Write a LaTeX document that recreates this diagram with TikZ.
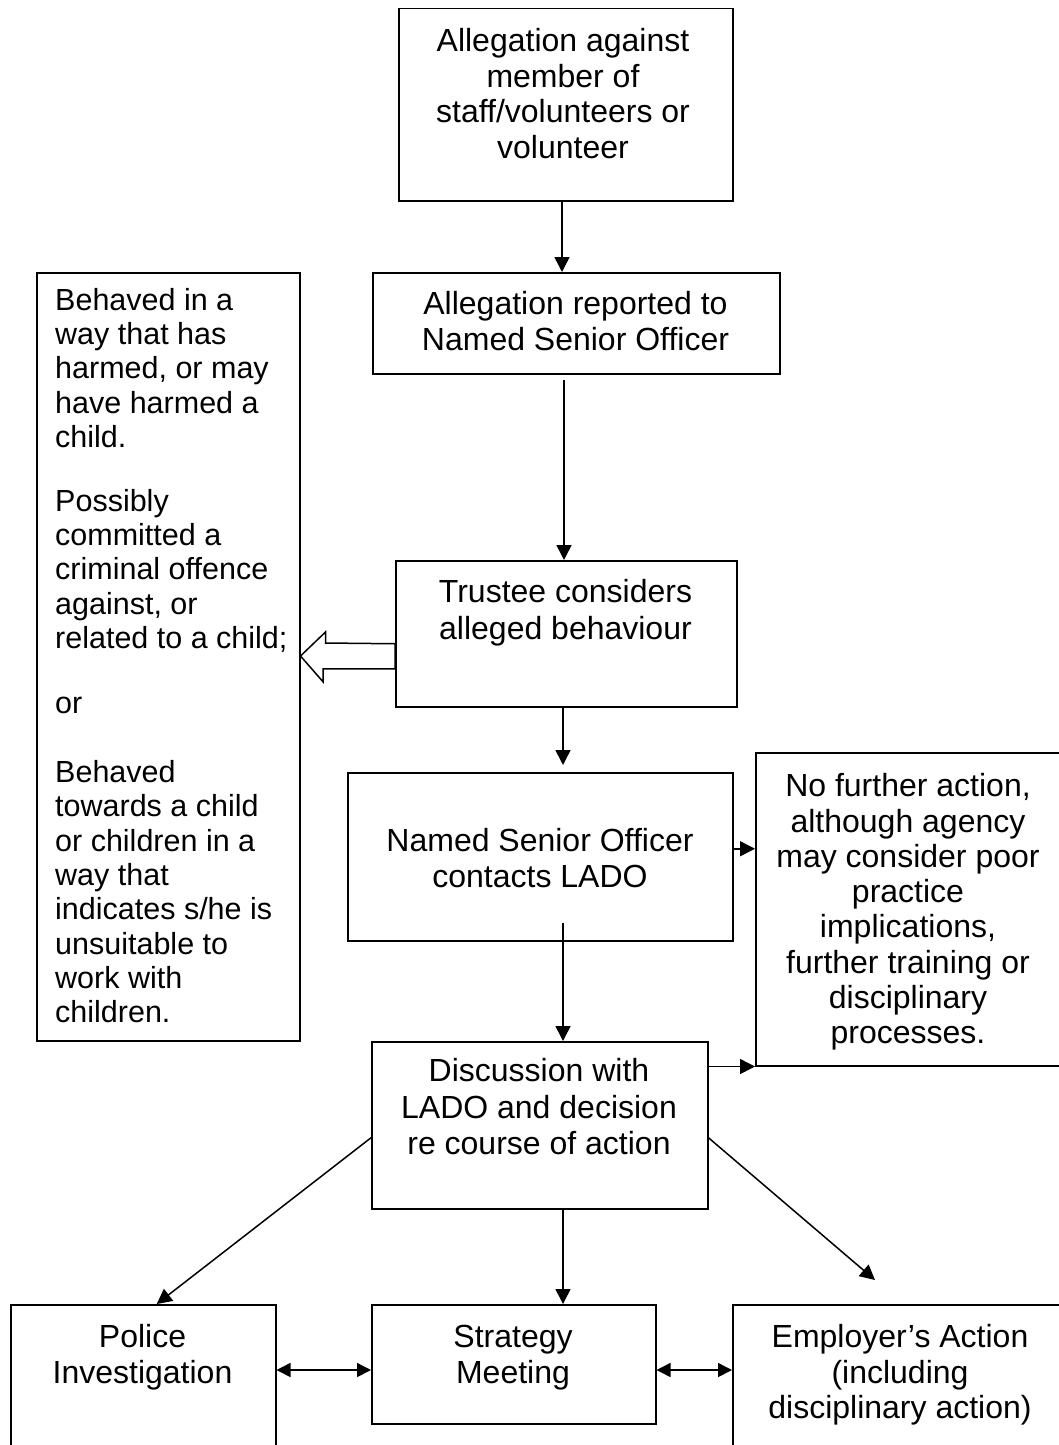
\documentclass[tikz,border=0pt]{standalone}
\usepackage{fontspec}
\setmainfont{Liberation Sans}
\usetikzlibrary{arrows.meta}
\newcommand\fl{\rule{0pt}{25pt}}
\begin{document}
\begin{tikzpicture}[x=1pt,y=-1pt,
  box/.style={draw=black,line width=1.5pt,inner sep=0pt,anchor=north west},
  txt/.style={inner sep=0pt,align=center,anchor=north,font=\fontsize{32}{35.5}\selectfont},
  arr/.style={line width=1.5pt,-{Triangle[length=15pt,width=15pt]}},
  darr/.style={line width=1.5pt,{Triangle[length=14pt,width=14pt]}-{Triangle[length=14pt,width=14pt]}},
  hollow/.style={line width=1.5pt,fill=white,line join=miter}]
\fill[white] (0,0) rectangle (1059,1445);
\useasboundingbox (0,0) rectangle (1059,1445);
% boxes
\node[box,minimum width=334pt,minimum height=192pt] (top) at (398,8) {};
\node[box,minimum width=407pt,minimum height=101pt] (rep) at (372,272) {};
\node[box,minimum width=263pt,minimum height=768pt] (left) at (36,272) {};
\node[box,minimum width=341pt,minimum height=146pt] (trust) at (395,560) {};
\node[box,minimum width=385pt,minimum height=168pt] (nso) at (347,772) {};
\node[box,minimum width=307pt,minimum height=313pt] (nfa) at (755,752) {};
\node[box,minimum width=336pt,minimum height=167pt] (disc) at (371,1041) {};
\node[box,minimum width=265pt,minimum height=176pt] (police) at (10,1304) {};
\node[box,minimum width=284pt,minimum height=119pt] (strat) at (371,1304) {};
\node[box,minimum width=348pt,minimum height=176pt] (emp) at (732,1304) {};
% texts
\node[txt] (topt) at (563,26.5) {\fl Allegation against\\member of\\staff/volunteers or\\volunteer};
\node[txt] (rept) at (575.5,289.5) {\fl Allegation reported to\\Named Senior Officer};
\node[txt,align=left,anchor=north west,font=\fontsize{30.5}{34.3}\selectfont] (leftt) at (55,286)
  {\rule{0pt}{24pt}Behaved in a\\way that has\\harmed, or may\\have harmed a\\child.\\[29.5pt]
   Possibly\\committed a\\criminal offence\\against, or\\related to a child;\\[30.5pt]
   or\\[35pt]
   Behaved\\towards a child\\or children in a\\way that\\indicates s/he is\\unsuitable to\\work with\\children.};
\node[txt,font=\fontsize{32}{37}\selectfont] (trustt) at (565.5,577.5) {\fl Trustee considers\\alleged behaviour};
\node[txt] (nsot) at (540,826.5) {\fl Named Senior Officer\\contacts LADO};
\node[txt,font=\fontsize{32}{35.3}\selectfont] (nfat) at (908,771.5) {\fl No further action,\\although agency\\may consider poor\\practice\\implications,\\further training or\\disciplinary\\processes.};
\node[txt,font=\fontsize{32}{36.5}\selectfont] (disct) at (539,1056.5) {\fl Discussion with\\LADO and decision\\re course of action};
\node[txt] (policet) at (142.5,1322.5) {\fl Police\\Investigation};
\node[txt] (stratt) at (513,1322.5) {\fl Strategy\\Meeting};
\node[txt] (empt) at (900,1322.5) {\fl Employer’s Action\\(including\\disciplinary action)};
% helper coordinates
\coordinate (spine) at (563,0);
\coordinate (row) at (0,1370);
\coordinate (ha) at (0,656);
\coordinate (emptip) at (875,1280);
% connectors
\draw[arr] ([xshift=-1pt]top.south -| spine) -- ([xshift=-1pt]rep.north -| spine);
\draw[arr,shorten <=5pt] ([xshift=1pt]rep.south -| spine) -- ([xshift=1pt]trust.north -| spine);
\draw[arr,shorten >=7pt] (trust.south -| spine) -- (nso.north -| spine);
\draw[arr,shorten <=-19pt] (nso.south -| spine) -- (disc.north -| spine);
\draw[arr] ([yshift=8pt]nso.east) -- ([yshift=8pt]nso.east -| nfa.west);
\draw[arr] (disc.east |- nfa.south west) -- (nfa.south west);
\draw[arr] ([yshift=-12.5pt]disc.west) -- ([xshift=13.5pt]police.north);
\draw[arr] ([yshift=-12.5pt]disc.east) -- (emptip);
\draw[arr] (disc.south -| spine) -- (strat.north -| spine);
\draw[darr] (police.east |- row) -- (strat.west |- row);
\draw[darr] (strat.east |- row) -- (emp.west |- row);
% hollow block arrow
\draw[hollow] (left.east |- ha) -- ++(25,-24) -- ++(0,11) -- ([yshift=-10pt]trust.west)
  -- ([yshift=-35pt]trust.west) -- ++(-72,0) -- ++(0,13) -- cycle;
\end{tikzpicture}
\end{document}
